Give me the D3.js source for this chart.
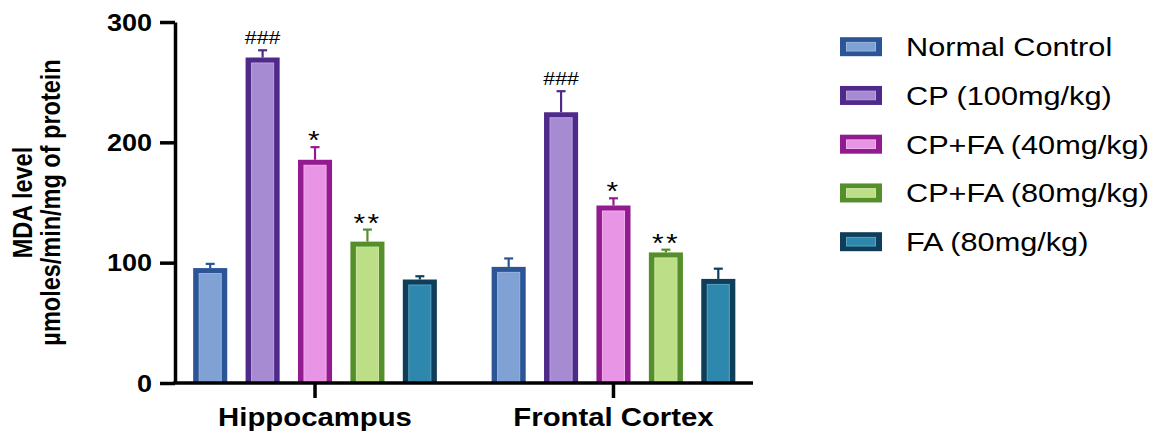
<!DOCTYPE html>
<html>
<head>
<meta charset="utf-8">
<script src="https://cdn.jsdelivr.net/npm/d3@7"></script>
<style>
html,body{margin:0;padding:0;background:#fff;}
svg{display:block;}
text{font-family:"Liberation Sans", Arial, sans-serif;}
</style>
</head>
<body>
<svg id="chart" width="1165" height="434"></svg>
<script>
// ---- data ----
const groups = ["Hippocampus", "Frontal Cortex"];
const series = ["Normal Control", "CP (100mg/kg)", "CP+FA (40mg/kg)", "CP+FA (80mg/kg)", "FA (80mg/kg)"];
const hippoMeans = [95.5, 270.5, 185.5, 117.5, 86];
const hippoSem = [3.5, 6, 10.5, 10, 2.7];
const frontalMeans = [96.5, 225, 147.5, 108.5, 86.5];
const frontalSem = [7, 17.5, 6, 2.3, 8.5];
const hippoMarks = ["", "###", "*", "**", ""];
const frontalMarks = ["", "###", "*", "**", ""];
const yTicks = [0, 100, 200, 300];
const borderColors = ["#2B5597", "#4F2A8A", "#921C8F", "#558F2A", "#0F3E5A"];
const fillColors = ["#7FA1D4", "#A68BD2", "#E895E6", "#BCDE86", "#2E88AE"];
const lightEdge = ["#9BB6DE", "#BBA5DD", "#F0B0EE", "#CFE6A8", "#5AA3C2"];

const means = [hippoMeans, frontalMeans];
const sems = [hippoSem, frontalSem];
const marks = [hippoMarks, frontalMarks];

const svg = d3.select("#chart");
const SX = 1.15; // horizontal glyph stretch of the reference

const y = d3.scaleLinear().domain([0, 300]).range([383, 22]);
const x0 = d3.scaleBand().domain(groups).range([184, 744.5]).paddingInner(0.122).paddingOuter(0);
const x1 = d3.scaleBand().domain(series).range([0, x0.bandwidth()]).paddingInner(0.35).paddingOuter(0.175);

const axisX = 175;

// bars
groups.forEach((g, gi) => {
  const gg = svg.append("g").attr("transform", `translate(${x0(g)},0)`);
  series.forEach((s, si) => {
    const v = means[gi][si], e = sems[gi][si];
    const bx = x1(s), bw = x1.bandwidth();
    const top = y(v), bot = y(0);
    const cx = bx + bw / 2;
    // error bar
    gg.append("line").attr("x1", cx).attr("x2", cx).attr("y1", top).attr("y2", y(v + e))
      .attr("stroke", borderColors[si]).attr("stroke-width", 2.2);
    gg.append("line").attr("x1", cx - 4.5).attr("x2", cx + 4.5).attr("y1", y(v + e)).attr("y2", y(v + e))
      .attr("stroke", borderColors[si]).attr("stroke-width", 2.2);
    // outer bar
    gg.append("rect").attr("x", bx).attr("y", top).attr("width", bw).attr("height", bot - top)
      .attr("fill", borderColors[si]);
    // inner fill
    gg.append("rect").attr("x", bx + 6).attr("y", top + 5.5).attr("width", bw - 12).attr("height", Math.max(0, bot - top - 5.5))
      .attr("fill", fillColors[si]).attr("stroke", lightEdge[si]).attr("stroke-width", 1);
    // significance marks
    const m = marks[gi][si];
    if (m) {
      const isHash = m.startsWith("#");
      const yy = y(v + e) - 13;
      gg.append("text")
        .attr("transform", `translate(${cx},${yy + (isHash ? 6.5 : 15)}) scale(${SX},1)`)
        .attr("text-anchor", "middle")
        .attr("font-size", isHash ? 18.5 : 26)
        .attr("letter-spacing", isHash ? 0 : 2)
        .attr("fill", "#000")
        .text(m);
    }
  });
});

// y axis
const yAxis = d3.axisLeft(y).tickValues(yTicks).tickSizeInner(15).tickSizeOuter(0).tickFormat(d3.format("d"));
const yg = svg.append("g").attr("transform", `translate(${axisX},0)`).call(yAxis);
yg.select(".domain").attr("stroke", "#000").attr("stroke-width", 3.5);
yg.selectAll(".tick line").attr("stroke", "#000").attr("stroke-width", 3.5);
yg.selectAll(".tick text")
  .attr("x", null).attr("dy", null)
  .attr("transform", `translate(-23,8.3) scale(${SX},1)`)
  .attr("text-anchor", "end")
  .attr("font-size", 23.5).attr("font-weight", "bold").attr("fill", "#000")
  .style("font-family", "'Liberation Sans', Arial, sans-serif");

// x axis
const xAxis = d3.axisBottom(x0).tickSizeInner(15).tickSizeOuter(0).tickFormat("");
const xg = svg.append("g").attr("transform", `translate(0,${y(0)})`).call(xAxis);
xg.select(".domain").remove();
xg.append("line").attr("x1", axisX - 1.75).attr("x2", 753).attr("y1", 0).attr("y2", 0)
  .attr("stroke", "#000").attr("stroke-width", 3.5);
xg.selectAll(".tick line").attr("stroke", "#000").attr("stroke-width", 3.5);
groups.forEach(g => {
  svg.append("text")
    .attr("transform", `translate(${x0(g) + x0.bandwidth() / 2},426) scale(${SX},1)`)
    .attr("text-anchor", "middle").attr("font-size", 25.5).attr("font-weight", "bold").attr("fill", "#000")
    .text(g);
});

// y title
const yTitle = ["MDA level", "µmoles/min/mg of protein"];
const titleX = [32, 60];
yTitle.forEach((t, i) => {
  svg.append("text")
    .attr("transform", `translate(${titleX[i]},202.5) scale(${SX},1) rotate(-90)`)
    .attr("text-anchor", "middle").attr("font-size", 23.5).attr("font-weight", "bold").attr("fill", "#000")
    .text(t);
});

// legend
const ly = d3.scalePoint().domain(series).range([46.7, 241.7]);
series.forEach((s, si) => {
  const cy = ly(s);
  svg.append("rect").attr("x", 840).attr("y", cy - 9.5).attr("width", 42).attr("height", 19)
    .attr("fill", borderColors[si]);
  svg.append("rect").attr("x", 846.5).attr("y", cy - 4.3).attr("width", 29).attr("height", 8.6)
    .attr("fill", fillColors[si]).attr("stroke", lightEdge[si]).attr("stroke-width", 1);
  svg.append("text")
    .attr("transform", `translate(906,${cy + 9.3}) scale(1.18,1)`)
    .attr("font-size", 26).attr("fill", "#000")
    .text(s);
});
</script>
</body>
</html>
